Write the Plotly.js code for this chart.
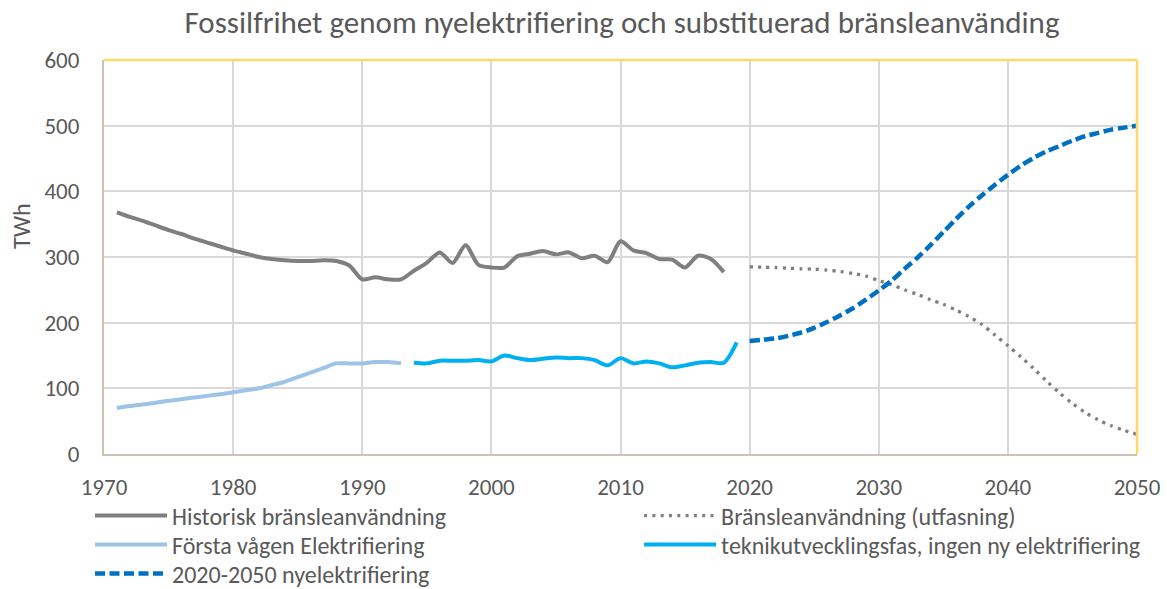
<!DOCTYPE html>
<html>
<head>
<meta charset="utf-8">
<script src="https://cdn.plot.ly/plotly-3.0.1.min.js"></script>
<style>
  html, body { margin: 0; padding: 0; background: #ffffff; }
  #chart { width: 1167px; height: 589px; }
</style>
</head>
<body>
<div id="chart"></div>
<script>
// Historisk bränsleanvändning (TWh)
const histYears = [1971,1972,1973,1974,1975,1976,1977,1978,1979,1980,1981,1982,1983,1984,1985,1986,1987,1988,1989,1990,1991,1992,1993,1994,1995,1996,1997,1998,1999,2000,2001,2002,2003,2004,2005,2006,2007,2008,2009,2010,2011,2012,2013,2014,2015,2016,2017,2018];
const histValues = [368,361,355,348,341,335,328,322,316,310,305,300,297,295,294,294,295,294,287,266,269,266,266,279,291,307,291,318,288,284,284,301,305,309,304,307,298,302,292,324,310,306,297,296,284,302,297,277];

// Bränsleanvändning (utfasning)
const phaseYears = [2020,2021,2022,2023,2024,2025,2026,2027,2028,2029,2030,2031,2032,2033,2034,2035,2036,2037,2038,2039,2040,2041,2042,2043,2044,2045,2046,2047,2048,2049,2050];
const phaseValues = [285,284.5,284,283,282,281.5,280,278,275,271,264,258,250,243,235,228,219,209,197,181,165,148,130,111,93,77,63,52,43,36,30];

// Första vågen Elektrifiering
const firstYears = [1971,1972,1973,1974,1975,1976,1977,1978,1979,1980,1981,1982,1983,1984,1985,1986,1987,1988,1989,1990,1991,1992,1993];
const firstValues = [70,73,75.5,78,81,83.5,86,88.5,91,94,97,100,105,110,117,124,131,138,138,138,140,140,138];

// teknikutvecklingsfas, ingen ny elektrifiering
const techYears = [1994,1995,1996,1997,1998,1999,2000,2001,2002,2003,2004,2005,2006,2007,2008,2009,2010,2011,2012,2013,2014,2015,2016,2017,2018,2019];
const techValues = [139,138,142,142,142,143,141,150,146,143,145,147,146,146,143,135,146,138,141,138,132,135,139,140,139,170];

// 2020-2050 nyelektrifiering
const newYears = [2020,2021,2022,2023,2024,2025,2026,2027,2028,2029,2030,2031,2032,2033,2034,2035,2036,2037,2038,2039,2040,2041,2042,2043,2044,2045,2046,2047,2048,2049,2050];
const newValues = [172,174,176,180,185,192,201,211,222,235,249,264,282,299,318,338,358,377,394,410,425,439,451,461,469,477,484,489,494,497,500];

const seriesNames = [
  'Historisk bränsleanvändning',
  'Bränsleanvändning (utfasning)',
  'Första vågen Elektrifiering',
  'teknikutvecklingsfas, ingen ny elektrifiering',
  '2020-2050 nyelektrifiering'
];
const xTicks = [1970,1980,1990,2000,2010,2020,2030,2040,2050];
const yTicks = [0,100,200,300,400,500,600];

const FONT = "Carlito, Calibri, Lato, sans-serif";
const TXT = '#595959';

const traces = [
  {x: histYears, y: histValues, name: seriesNames[0], mode: 'lines', legend: 'legend',
   line: {color: '#7f7f7f', width: 4, shape: 'spline', smoothing: 0.8}},
  {x: phaseYears, y: phaseValues, name: seriesNames[1], mode: 'lines', legend: 'legend2',
   line: {color: '#7f7f7f', width: 3.3, dash: '3px,5.3px', shape: 'spline', smoothing: 0.8}},
  {x: firstYears, y: firstValues, name: seriesNames[2], mode: 'lines', legend: 'legend3',
   line: {color: '#9dc3e6', width: 4, shape: 'spline', smoothing: 0.8}},
  {x: techYears, y: techValues, name: seriesNames[3], mode: 'lines', legend: 'legend4',
   line: {color: '#00b0f0', width: 4, shape: 'spline', smoothing: 0.8}},
  {x: newYears, y: newValues, name: seriesNames[4], mode: 'lines', legend: 'legend5',
   line: {color: '#0070c0', width: 4.5, dash: '10px,4.5px', shape: 'spline', smoothing: 0.8}}
];

function leg(x, y) {
  return {x: x, y: y, xanchor: 'left', yanchor: 'middle', orientation: 'v',
          bgcolor: 'rgba(0,0,0,0)', borderwidth: 0, itemwidth: 72,
          font: {family: FONT, size: 24, color: TXT}};
}

const layout = {
  width: 1167, height: 589,
  paper_bgcolor: '#ffffff', plot_bgcolor: '#ffffff',
  margin: {l: 104, r: 30, t: 60, b: 135, autoexpand: false},
  font: {family: FONT, color: TXT, size: 23},
  title: {text: 'Fossilfrihet genom nyelektrifiering och substituerad bränsleanvänding',
          font: {family: FONT, size: 31, color: TXT}, x: 0.533, xanchor: 'center', y: 0.9626, yanchor: 'middle'},
  xaxis: {range: [1970, 2050], tickvals: xTicks, ticktext: xTicks.map(String),
          showgrid: true, gridcolor: '#d9d9d9', gridwidth: 2,
          showline: true, linecolor: '#cbc4b4', linewidth: 2,
          ticks: '', ticklabelstandoff: 11, tickfont: {family: FONT, size: 23, color: TXT}, zeroline: false},
  yaxis: {range: [0, 600], tickvals: yTicks, ticktext: yTicks.map(String),
          showgrid: true, gridcolor: '#d9d9d9', gridwidth: 2,
          showline: true, linecolor: '#cbc4b4', linewidth: 2,
          ticks: '', ticklabelstandoff: 18, tickfont: {family: FONT, size: 23, color: TXT}, zeroline: false},
  annotations: [
    {text: 'TWh', xref: 'paper', yref: 'paper', x: -0.0794, y: 0.5787,
     xanchor: 'center', yanchor: 'middle', textangle: -90, showarrow: false,
     font: {family: FONT, size: 24, color: TXT}}
  ],
  shapes: [
    {type: 'line', xref: 'paper', yref: 'paper', x0: 0, x1: 1, y0: 1, y1: 1,
     line: {color: '#ffd966', width: 2.5}},
    {type: 'line', xref: 'paper', yref: 'paper', x0: 1, x1: 1, y0: 0, y1: 1,
     line: {color: '#ffd966', width: 2.5}}
  ],
  legend: leg(-0.01355, -0.1574),
  legend2: leg(0.518, -0.1574),
  legend3: leg(-0.01355, -0.2310),
  legend4: leg(0.518, -0.2310),
  legend5: leg(-0.01355, -0.3046),
  showlegend: true
};

Plotly.newPlot('chart', traces, layout, {displayModeBar: false, staticPlot: true});
</script>
</body>
</html>
